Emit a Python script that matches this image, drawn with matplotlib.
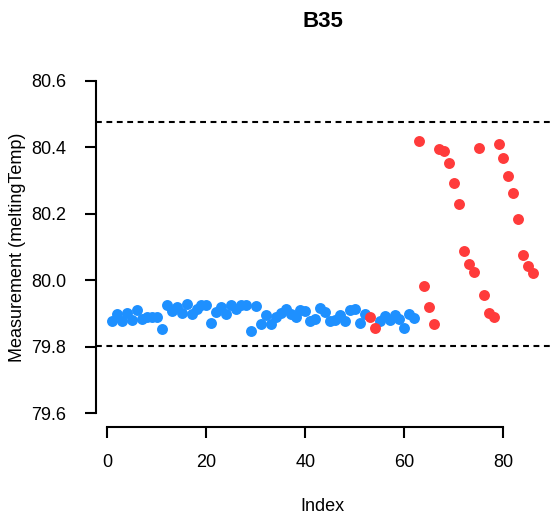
import numpy as np
import matplotlib
matplotlib.use('Agg')
import matplotlib.pyplot as plt

plt.rcParams['font.family'] = ['Liberation Sans', 'DejaVu Sans']

# 测量值 (meltingTemp), index 1..86
values = [79.878, 79.900, 79.878, 79.903, 79.882, 79.910, 79.885, 79.890, 79.890, 79.890,
          79.852, 79.925, 79.908, 79.920, 79.902, 79.930, 79.900, 79.915, 79.925, 79.927,
          79.873, 79.905, 79.920, 79.900, 79.927, 79.915, 79.925, 79.925, 79.847, 79.923,
          79.870, 79.895, 79.870, 79.890, 79.903, 79.915, 79.900, 79.890, 79.910, 79.908,
          79.878, 79.885, 79.918, 79.905, 79.878, 79.880, 79.895, 79.878, 79.910, 79.913,
          79.872, 79.900, 79.890, 79.857, 79.878, 79.892, 79.880, 79.895, 79.885, 79.855,
          79.900, 79.887, 80.420, 79.983, 79.920, 79.868, 80.395, 80.390, 80.352, 80.294,
          80.230, 80.089, 80.048, 80.024, 80.397, 79.955, 79.902, 79.890, 80.410, 80.369,
          80.314, 80.263, 80.184, 80.075, 80.043, 80.021]
# 超出规则的点(红色)
flagged = [53, 54] + list(range(63, 87))
limits = [80.476, 79.802]

title = 'B35'
xlabel = 'Index'
ylabel = 'Measurement (meltingTemp)'
xticks = [0, 20, 40, 60, 80]
yticks = [79.6, 79.8, 80.0, 80.2, 80.4, 80.6]

idx = np.arange(1, len(values) + 1)
vals = np.array(values)
is_red = np.isin(idx, flagged)

W, H = 551, 520
L, R, T, B = 95.5, 550, 67.7, 426.5   # 绘图区像素位置
fig = plt.figure(figsize=(W / 100, H / 100), dpi=100)
ax = fig.add_axes([L / W, (H - B) / H, (R - L) / W, (B - T) / H])

ax.scatter(idx[~is_red], vals[~is_red], s=62, color='#1E90FF', linewidths=0, zorder=3)
ax.scatter(idx[is_red], vals[is_red], s=62, color='#FF3B3B', linewidths=0, zorder=3)

for lim in limits:
    ax.axhline(lim, color='black', lw=1.5, linestyle=(0, (2.8, 2.2)), zorder=2)

ax.set_xlim(1 - 0.04 * 85, 86 + 0.04 * 85)
ax.set_ylim(79.56, 80.64)

for s in ['top', 'right']:
    ax.spines[s].set_visible(False)
ax.spines['left'].set_bounds(79.6, 80.6)
ax.spines['bottom'].set_bounds(0, 80)
for s in ['left', 'bottom']:
    ax.spines[s].set_linewidth(1.5)

ax.set_xticks(xticks)
ax.set_yticks(yticks)
ax.set_yticklabels(['%.1f' % v for v in yticks])
ax.tick_params(axis='both', length=8, width=1.5, labelsize=13, colors='black')
ax.tick_params(axis='y', pad=13)
ax.tick_params(axis='x', pad=12)

fig.text((L + R) / 2 / W, 1 - 21.7 / H, title, ha='center', va='center',
         fontsize=16, fontweight='bold')
fig.text((L + R) / 2 / W, 1 - 506.7 / H, xlabel, ha='center', va='center', fontsize=13)
fig.text(18 / W, 1 - 247 / H, ylabel, ha='center', va='center', rotation=90, fontsize=13)

fig.savefig('out.png', dpi=100)
